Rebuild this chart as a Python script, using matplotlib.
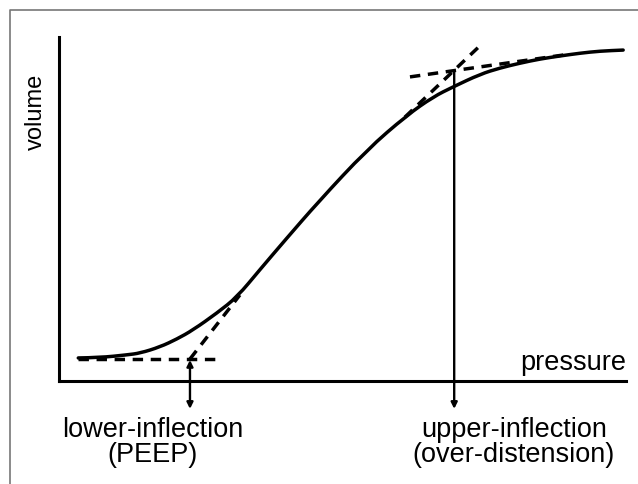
import matplotlib
matplotlib.use('Agg')
import matplotlib.pyplot as plt
from matplotlib.path import Path
from matplotlib.patches import PathPatch

# pressure-volume curve (both axes 0..100)
pressure = [3.4, 7.2, 12.0, 14.3, 17.8, 20.8, 23.6, 27.9, 31.4, 35.4, 39.9, 45.7,
            54.3, 61.4, 66.0, 69.5, 74.3, 77.8, 81.3, 84.8, 88.4, 91.9, 95.4, 99.5]
volume = [6.7, 6.8, 7.6, 8.1, 9.9, 12.2, 14.8, 19.8, 24.4, 32.3, 41.0, 52.0,
          67.2, 77.3, 82.6, 85.5, 89.2, 91.0, 92.4, 93.6, 94.5, 95.3, 95.9, 96.2]

# tangent lines at the two inflection points
low_flat_x = [3.4, 28.4]
low_flat_y = [6.4, 6.4]
low_steep_x = [23.1, 31.9]
low_steep_y = [6.4, 25.0]
up_flat_x = [61.9, 89.1]
up_flat_y = [88.4, 94.8]
up_steep_x = [61.0, 74.4]
up_steep_y = [76.7, 97.7]

# inflection markers: x position, top of arrow, bottom of arrow
lower_x, lower_top, lower_bot = 23.1, 6.1, -8.1
upper_x, upper_top, upper_bot = 69.7, 90.1, -8.1

lower_label = ['lower-inflection', '(PEEP)']
upper_label = ['upper-inflection', '(over-distension)']

plt.rcParams['font.family'] = ['Liberation Sans', 'DejaVu Sans']

fig = plt.figure(figsize=(6.38, 4.84), dpi=100)

# thin grey frame (top and left edges of the cropped figure)
bg = fig.add_axes([0, 0, 1, 1])
bg.set_xlim(0, 638)
bg.set_ylim(484, 0)
bg.axis('off')
bg.plot([10, 10, 638], [484, 10, 10], color='#777777', lw=1.2)

ax = fig.add_axes([59 / 638, 103 / 484, 567 / 638, 344 / 484])
ax.set_xlim(0, 100)
ax.set_ylim(0, 100)
ax.patch.set_alpha(0)
for s in ['top', 'right']:
    ax.spines[s].set_visible(False)
for s in ['left', 'bottom']:
    ax.spines[s].set_linewidth(2.2)
ax.set_xticks([])
ax.set_yticks([])

# smooth curve: quadratic bezier through the midpoints of the read points
pts = list(zip(pressure, volume))
verts = [pts[0]]
codes = [Path.MOVETO]
for i in range(1, len(pts) - 1):
    mid = ((pts[i][0] + pts[i + 1][0]) / 2, (pts[i][1] + pts[i + 1][1]) / 2)
    verts += [pts[i], mid]
    codes += [Path.CURVE3, Path.CURVE3]
verts.append(pts[-1])
codes.append(Path.LINETO)
ax.add_patch(PathPatch(Path(verts, codes), facecolor='none', edgecolor='k',
                       lw=2.5, capstyle='round', clip_on=False))

dash_kw = dict(color='k', lw=2.5, dashes=(3, 2.2), clip_on=False)
ax.plot(low_flat_x, low_flat_y, **dash_kw)
ax.plot(low_steep_x, low_steep_y, **dash_kw)
ax.plot(up_flat_x, up_flat_y, **dash_kw)
ax.plot(up_steep_x, up_steep_y, **dash_kw)

ax.annotate('', xy=(lower_x, lower_bot), xytext=(lower_x, lower_top),
            arrowprops=dict(arrowstyle='<|-|>', lw=1.7, color='k', mutation_scale=9,
                            shrinkA=0, shrinkB=0), annotation_clip=False)
ax.annotate('', xy=(upper_x, upper_bot), xytext=(upper_x, upper_top),
            arrowprops=dict(arrowstyle='-|>', lw=1.7, color='k', mutation_scale=9,
                            shrinkA=0, shrinkB=0), annotation_clip=False)

ax.text(100, 3.2, 'pressure', ha='right', va='baseline', fontsize=19.5)
ax.text(-4.1, 78.2, 'volume', ha='center', va='center', rotation=90, fontsize=17)

ax.text(16.6, -16.3, lower_label[0], ha='center', va='baseline', fontsize=19.5)
ax.text(16.5, -23.6, lower_label[1], ha='center', va='baseline', fontsize=19.5)
ax.text(80.2, -16.3, upper_label[0], ha='center', va='baseline', fontsize=19.5)
ax.text(80.2, -23.6, upper_label[1], ha='center', va='baseline', fontsize=19.5)

fig.savefig('out.png', dpi=100)
